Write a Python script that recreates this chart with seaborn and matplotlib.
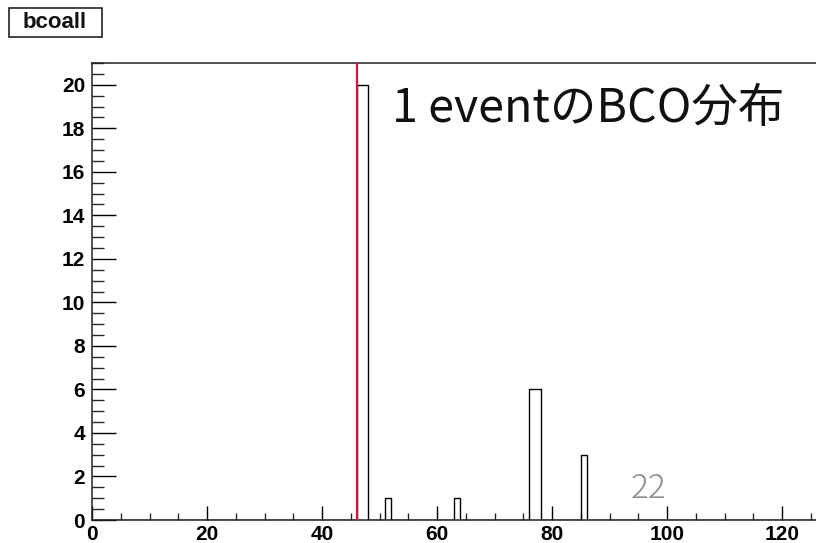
import numpy as np
import pandas as pd
import matplotlib
matplotlib.use("Agg")
import matplotlib.pyplot as plt
from matplotlib.ticker import MultipleLocator
from matplotlib.patches import Rectangle
import seaborn as sns

# BCO bins that received hits in one event, and the hit count in each
bco_bins = [46, 47, 51, 63, 76, 77, 85]
hit_counts = [20, 20, 1, 1, 6, 6, 3]
trigger_bco = 46

x_range = (0, 128)
y_range = (0, 21)
x_major = [0, 20, 40, 60, 80, 100, 120]
y_major = [0, 2, 4, 6, 8, 10, 12, 14, 16, 18, 20]

hist_name = "bcoall"
headline = "1 eventのBCO分布"
page_no = "22"

sns.set_style("ticks")
plt.rcParams["font.family"] = ["Liberation Sans", "DejaVu Sans"]

df = pd.DataFrame({"bco": bco_bins, "count": hit_counts})

fig = plt.figure(figsize=(8.16, 5.43), dpi=100)
fig.patch.set_facecolor("white")
ax = fig.add_axes([92 / 816, 23 / 543, 736 / 816, 457 / 543])

sns.histplot(data=df, x="bco", weights="count",
             binwidth=1, binrange=x_range,
             element="step", fill=False, color="black", linewidth=1.0, ax=ax)

ax.axvline(trigger_bco, color="#d2143c", linewidth=1.6, zorder=5)

ax.set_xlim(*x_range)
ax.set_ylim(*y_range)
ax.set_xlabel("")
ax.set_ylabel("")
ax.set_xticks(x_major)
ax.set_yticks(y_major)
ax.xaxis.set_minor_locator(MultipleLocator(5))
ax.yaxis.set_minor_locator(MultipleLocator(0.5))
ax.tick_params(axis="x", which="major", direction="in", length=10, width=1.0,
               pad=3.5, labelsize=15, colors="black")
ax.tick_params(axis="x", which="minor", direction="in", length=5, width=1.0)
ax.tick_params(axis="y", which="major", direction="in", length=17, width=1.0,
               pad=5, labelsize=15, colors="black")
ax.tick_params(axis="y", which="minor", direction="in", length=8.5, width=1.0)
for lab in ax.get_xticklabels() + ax.get_yticklabels():
    lab.set_fontweight("bold")
for side in ["left", "bottom", "top", "right"]:
    ax.spines[side].set_visible(True)
    ax.spines[side].set_color("#222222")
    ax.spines[side].set_linewidth(1.1)
ax.grid(False)

# histogram name box in the upper-left corner
fig.patches.append(Rectangle((8.5 / 816, 1 - 36.5 / 543), 93 / 816, 29 / 543,
                             transform=fig.transFigure, fill=False,
                             edgecolor="#111111", linewidth=1.1))
fig.text(54.5 / 816, 1 - 22 / 543, hist_name, ha="center", va="center",
         fontsize=16, fontweight="bold", color="#111111")

fig.text(392 / 816, 1 - 122 / 543, headline, ha="left", va="baseline",
         fontsize=33.5, color="#111111", fontweight="normal",
         family=["Noto Sans CJK JP", "DejaVu Sans"])

fig.text(631 / 816, 1 - 498 / 543, page_no, ha="left", va="baseline",
         fontsize=24, color="#8f8f8f", fontweight="light",
         family=["Noto Sans CJK JP", "DejaVu Sans"])

fig.savefig("out.png", dpi=100, facecolor="white")
